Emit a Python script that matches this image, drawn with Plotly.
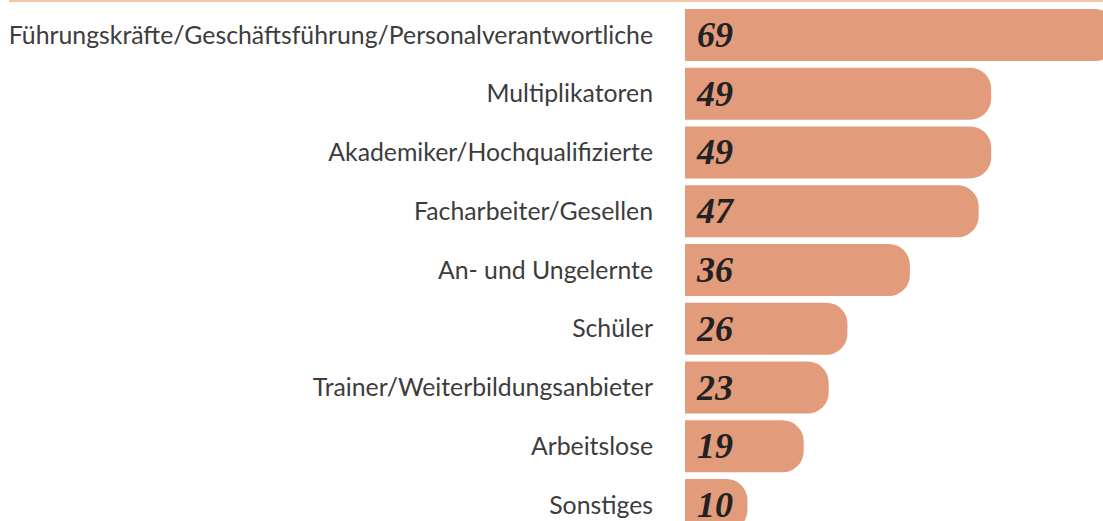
import plotly.graph_objects as go

categories = [
    "Führungskräfte/Geschäftsführung/Personalverantwortliche",
    "Multiplikatoren",
    "Akademiker/Hochqualifizierte",
    "Facharbeiter/Gesellen",
    "An- und Ungelernte",
    "Schüler",
    "Trainer/Weiterbildungsanbieter",
    "Arbeitslose",
    "Sonstiges",
]
values = [69, 49, 49, 47, 36, 26, 23, 19, 10]

BAR_COLOR = "#E39C7B"
LINE_COLOR = "#F5C4A6"
LABEL_COLOR = "#3C3C3C"
VALUE_COLOR = "#222222"

fig = go.Figure(
    go.Bar(
        x=values,
        y=categories,
        orientation="h",
        marker=dict(color=BAR_COLOR, line=dict(width=0), cornerradius=21),
        texttemplate="\u00a0%{x}",
        textposition="inside",
        insidetextanchor="start",
        textangle=0,
        constraintext="none",
        textfont=dict(family="Liberation Serif", size=36, color=VALUE_COLOR,
                      weight="bold", style="italic"),
        hoverinfo="skip",
    )
)

fig.update_layout(
    width=1103,
    height=521,
    margin=dict(l=685, r=0, t=0, b=0),
    paper_bgcolor="white",
    plot_bgcolor="white",
    bargap=0.115,
    showlegend=False,
    xaxis=dict(range=[0, 66.9], visible=False, fixedrange=True),
    yaxis=dict(
        type="category",
        range=[8.272, -0.595],
        showgrid=False,
        zeroline=False,
        showline=False,
        ticks="",
        ticklabelstandoff=31,
        tickfont=dict(family="Lato", size=24.8, color=LABEL_COLOR),
        fixedrange=True,
    ),
    shapes=[
        dict(type="line", xref="paper", yref="paper",
             x0=(9 - 685) / 418, x1=1.0, y0=1 - 1 / 521, y1=1 - 1 / 521,
             line=dict(color=LINE_COLOR, width=2), layer="above"),
    ],
)

fig.write_html(
    "out.html",
    config={"displayModeBar": False, "staticPlot": True},
    post_script="document.body.style.margin='0';document.body.style.overflow='hidden';",
)
